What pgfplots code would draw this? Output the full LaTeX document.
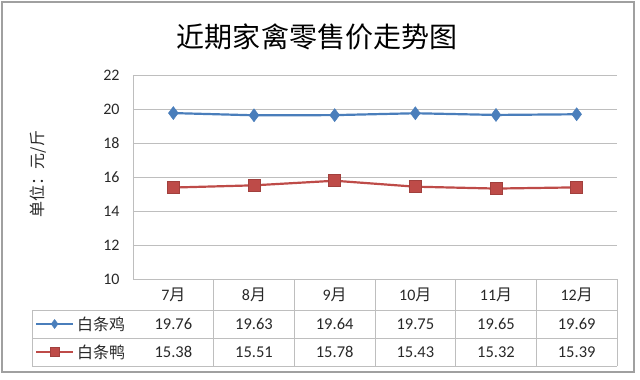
\documentclass[border=0pt]{standalone}
\usepackage{pgfplots}
\pgfplotsset{compat=1.18}
\usepackage{fontspec}
\setmainfont{Carlito}
\newfontfamily\cjk{Noto Sans CJK SC}
\definecolor{cblue}{RGB}{74,126,187}
\definecolor{cred}{RGB}{190,75,72}
\definecolor{gridc}{RGB}{190,190,190}
\definecolor{framec}{RGB}{160,160,160}
\definecolor{txt}{RGB}{40,40,40}
\begin{document}
\begin{tikzpicture}[x=1bp,y=1bp]
\path[use as bounding box] (-133,-100) rectangle (507,279);
\draw[framec, line width=1.5bp] (-131,277) rectangle (501,-93);
\begin{axis}[
  at={(0,0)}, anchor=south west, scale only axis,
  width=484bp, height=204bp,
  xmin=-0.5, xmax=5.5, ymin=10, ymax=22,
  ytick={10,12,...,22}, xtick=\empty,
  axis line style={draw=none},
  tick style={draw=none},
  ymajorgrids, grid style={gridc, line width=0.8bp},
  /pgf/number format/assume math mode=true,
  yticklabel style={font=\fontsize{16bp}{19bp}\selectfont, text=txt, xshift=-10bp},
  clip=false,
  legend style={draw=none, fill=none, at={(-0.2025,-0.15196)}, anchor=north west,
    inner sep=0pt, outer sep=0pt, row sep=0pt, column sep=3bp,
    font=\cjk\fontsize{16bp}{19bp}\selectfont, text=txt,
    nodes={inner sep=0pt, minimum height=28bp}},
  legend cell align=left,
  legend image code/.code={\draw[mark repeat=2,mark phase=2,#1,mark size=4.5bp] plot coordinates {(0bp,0bp) (18.5bp,0bp) (37bp,0bp)};},
]
\addplot[cblue, line width=2.2bp, mark=diamond*, mark size=6.5bp, mark options={fill=cblue, line width=0.5bp, solid}]
  coordinates {(0,19.76)(1,19.63)(2,19.64)(3,19.75)(4,19.65)(5,19.69)};
\addlegendentry{白条鸡}
\addplot[cred, line width=2.2bp, mark=square*, mark size=6bp, mark options={fill=cred, draw=cred!85!black, line width=0.5bp, solid}]
  coordinates {(0,15.38)(1,15.51)(2,15.78)(3,15.43)(4,15.32)(5,15.39)};
\addlegendentry{白条鸭}
\end{axis}
% axis and table lines
\draw[gridc, line width=0.8bp] (0,0) -- (0,204);
\draw[gridc, line width=0.8bp] (0,0) -- (484,0);
\foreach \yy in {-31,-59,-87} \draw[gridc, line width=0.8bp] (-101,\yy) -- (484,\yy);
\draw[gridc, line width=0.8bp] (-101,-31) -- (-101,-87);
\foreach \k in {1,...,6} \draw[gridc, line width=0.8bp] ({80.667*\k},0) -- ({80.667*\k},-87);
% table text
\foreach \m [count=\i from 0] in {7,8,9,10,11,12}
  \node[font=\fontsize{16bp}{19bp}\selectfont, text=txt] at ({40.333+80.667*\i},-15.5) {\m{\cjk 月}};
\foreach \v [count=\i from 0] in {19.76,19.63,19.64,19.75,19.65,19.69}
  \node[font=\fontsize{16.5bp}{19bp}\selectfont, text=txt] at ({40.333+80.667*\i},-45) {\v};
\foreach \v [count=\i from 0] in {15.38,15.51,15.78,15.43,15.32,15.39}
  \node[font=\fontsize{16.5bp}{19bp}\selectfont, text=txt] at ({40.333+80.667*\i},-73) {\v};
% titles
\node[font=\cjk\fontsize{28bp}{32bp}\selectfont] at (184,242) {近期家禽零售价走势图};
\node[font=\cjk\fontsize{16bp}{19bp}\selectfont, rotate=90, text=txt] at (-95,105) {单位：元/斤};
\end{tikzpicture}
\end{document}
